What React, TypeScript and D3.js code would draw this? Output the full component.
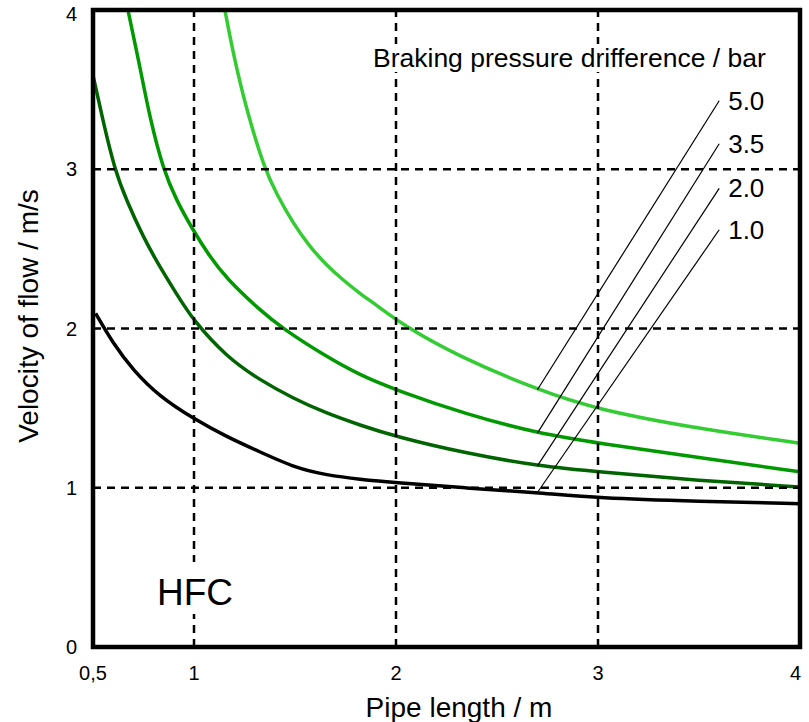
import React from 'react';
import * as d3 from 'd3';

// Pipe length (m) / velocity of flow (m/s) for each braking pressure difference (bar)
const pipeLength_1_0 = [0.513, 0.599, 0.698, 0.83, 0.995, 1.16, 1.325, 1.506, 1.655, 1.82, 1.998, 2.35, 2.7, 3.0, 3.5, 4.0];
const velocity_1_0 = [2.095, 1.907, 1.739, 1.572, 1.436, 1.321, 1.226, 1.122, 1.08, 1.053, 1.032, 0.998, 0.97, 0.935, 0.915, 0.9];

const pipeLength_2_0 = [0.5, 0.55, 0.607, 0.665, 0.748, 0.83, 0.912, 0.995, 1.16, 1.325, 1.49, 1.655, 1.82, 1.998, 2.35, 2.71, 3.0, 3.5, 4.0];
const velocity_2_0 = [3.59, 3.3, 3.0, 2.807, 2.576, 2.388, 2.221, 2.053, 1.823, 1.677, 1.562, 1.468, 1.394, 1.321, 1.215, 1.135, 1.1, 1.045, 1.005];

const pipeLength_3_5 = [0.673, 0.733, 0.78, 0.847, 0.912, 0.995, 1.078, 1.16, 1.325, 1.441, 1.655, 1.82, 1.998, 2.35, 2.71, 3.0, 3.5, 4.0];
const velocity_3_5 = [4.0, 3.64, 3.33, 3.0, 2.807, 2.618, 2.451, 2.315, 2.116, 1.997, 1.823, 1.708, 1.614, 1.46, 1.34, 1.28, 1.19, 1.1];

const pipeLength_5_0 = [1.153, 1.19, 1.26, 1.35, 1.407, 1.49, 1.573, 1.655, 1.738, 1.82, 1.902, 2.035, 2.3, 2.71, 3.0, 3.5, 4.0];
const velocity_5_0 = [4.0, 3.75, 3.37, 3.0, 2.849, 2.661, 2.514, 2.399, 2.304, 2.221, 2.148, 2.022, 1.83, 1.61, 1.49, 1.37, 1.28];

const pressureLabels = ['5.0', '3.5', '2.0', '1.0'];
const leaderFromLength = 2.7;
const leaderToLength = 3.6;
const leaderToVelocity = [3.43, 3.16, 2.88, 2.62];

const xTicks = [0.5, 1, 2, 3, 4];
const xTickLabels = ['0,5', '1', '2', '3', '4'];
const yTicks = [0, 1, 2, 3, 4];
const yTickLabels = ['0', '1', '2', '3', '4'];
const xGrid = [1, 2, 3];
const yGrid = [1, 2, 3];

const FONT = "'Liberation Sans', Arial, Helvetica, sans-serif";

export default function App() {
  const W = 809;
  const H = 722;
  const x = d3.scaleLinear().domain([0.5, 4]).range([93, 800]);
  const y = d3.scaleLinear().domain([0, 4]).range([647, 10]);

  const series = [
    { label: '5.0', xs: pipeLength_5_0, vs: velocity_5_0, color: '#33cc33' },
    { label: '3.5', xs: pipeLength_3_5, vs: velocity_3_5, color: '#009a00' },
    { label: '2.0', xs: pipeLength_2_0, vs: velocity_2_0, color: '#006400' },
    { label: '1.0', xs: pipeLength_1_0, vs: velocity_1_0, color: '#000000' },
  ];

  const line = d3
    .line<[number, number]>()
    .x((d) => x(d[0]))
    .y((d) => y(d[1]))
    .curve(d3.curveBasis);

  const interp = (xs: number[], vs: number[], t: number) => {
    const i = Math.max(1, Math.min(xs.length - 1, d3.bisectLeft(xs, t)));
    const a = (t - xs[i - 1]) / (xs[i] - xs[i - 1]);
    return vs[i - 1] + a * (vs[i] - vs[i - 1]);
  };

  const [x0, x1] = x.range();
  const [y0, y1] = y.range();

  return (
    <svg
      width={W}
      height={H}
      style={{ position: 'absolute', left: 0, top: 0, background: '#fff' }}
      fontFamily={FONT}
    >
      <defs>
        <clipPath id="plot">
          <rect x={x0} y={y1} width={x1 - x0} height={y0 - y1} />
        </clipPath>
      </defs>
      <rect x={0} y={0} width={W} height={H} fill="#fff" />

      {/* curves */}
      <g clipPath="url(#plot)">
        {series
          .slice()
          .reverse()
          .map((s) => (
            <path
              key={s.label}
              d={line(s.xs.map((v, i) => [v, s.vs[i]] as [number, number])) || ''}
              fill="none"
              stroke={s.color}
              strokeWidth={3.5}
            />
          ))}
      </g>

      {/* grid */}
      {xGrid.map((g) => (
        <line key={'gx' + g} x1={x(g)} x2={x(g)} y1={y0} y2={y1} stroke="#000" strokeWidth={2.5} strokeDasharray="8,6" />
      ))}
      {yGrid.map((g) => (
        <line key={'gy' + g} x1={x0} x2={x1} y1={y(g)} y2={y(g)} stroke="#000" strokeWidth={2.5} strokeDasharray="8,6" />
      ))}

      {/* legend title */}
      <rect x={370} y={44} width={400} height={28} fill="#fff" />
      <text x={373} y={67} fontSize={26.5} fill="#000">
        Braking pressure drifference / bar
      </text>

      {/* leader lines and labels */}
      {series.map((s, i) => {
        const bx = x(leaderFromLength);
        const by = y(interp(s.xs, s.vs, leaderFromLength));
        const tx = x(leaderToLength);
        const ty = y(leaderToVelocity[i]);
        return (
          <g key={'lead' + s.label}>
            <line x1={bx} y1={by} x2={tx} y2={ty} stroke="#000" strokeWidth={1.2} />
            <text x={tx + 9} y={ty + 9} fontSize={26} fill="#000">
              {pressureLabels[i]}
            </text>
          </g>
        );
      })}

      {/* frame */}
      <rect x={x0} y={y1} width={x1 - x0} height={y0 - y1} fill="none" stroke="#000" strokeWidth={4.5} />

      {/* x tick labels */}
      {xTicks.map((t, i) => {
        const last = i === xTicks.length - 1;
        return (
          <text
            key={'xt' + t}
            x={last ? x(t) + 1 : x(t)}
            y={680}
            fontSize={20}
            textAnchor={last ? 'end' : 'middle'}
            fill="#000"
          >
            {xTickLabels[i]}
          </text>
        );
      })}

      {/* y tick labels */}
      {yTicks.map((t, i) => {
        const last = i === yTicks.length - 1;
        return (
          <text key={'yt' + t} x={77} y={y(t) + (last ? 11 : 7)} fontSize={20} textAnchor="end" fill="#000">
            {yTickLabels[i]}
          </text>
        );
      })}

      {/* axis titles */}
      <text x={459} y={717} fontSize={28} textAnchor="middle" fill="#000">
        Pipe length / m
      </text>
      <text transform="translate(38,316) rotate(-90)" fontSize={28} textAnchor="middle" fill="#000">
        Velocity of flow / m/s
      </text>

      <rect x={154} y={562} width={80} height={52} fill="#fff" />
      <text x={157} y={605} fontSize={37} fill="#000">
        HFC
      </text>
    </svg>
  );
}
